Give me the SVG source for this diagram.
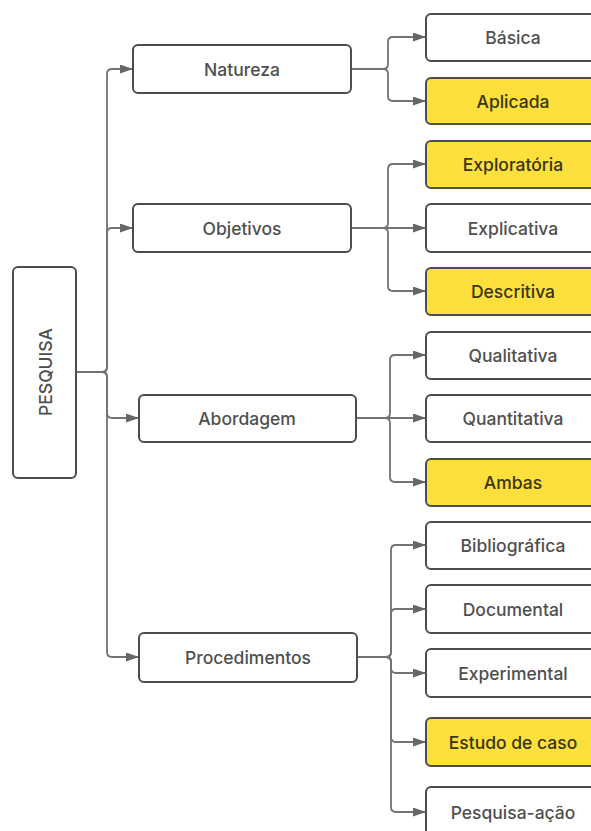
<svg xmlns="http://www.w3.org/2000/svg" width="591" height="831" viewBox="0 0 591 831">
<style>
.box{fill:#ffffff;stroke:#4d4d4d;stroke-width:2}
.hl{fill:#fde03c;stroke:#4d4d4d;stroke-width:2}
.t{font-family:Inter,"Liberation Sans",sans-serif;font-size:17.5px;font-weight:500;fill:#4f4f4f;text-anchor:middle;dominant-baseline:central}
.th{fill:#3a3410}
.c{fill:none;stroke:#737373;stroke-width:1.8}
</style>
<defs>
<marker id="arr" markerUnits="userSpaceOnUse" markerWidth="13" markerHeight="9" refX="13" refY="4.5" orient="auto">
<path d="M0,0 L13,4.5 L0,9 Z" fill="#666666"/>
</marker>
</defs>
<g id="connectors">
<path class="c" marker-end="url(#arr)" d="M76,372 H102 Q107,372 107,367 V74 Q107,69 112,69 H133"/>
<path class="c" marker-end="url(#arr)" d="M76,372 H102 Q107,372 107,367 V233 Q107,228 112,228 H133"/>
<path class="c" marker-end="url(#arr)" d="M76,372 H102 Q107,372 107,377 V413 Q107,418 112,418 H139"/>
<path class="c" marker-end="url(#arr)" d="M76,372 H102 Q107,372 107,377 V652 Q107,657 112,657 H139"/>
<path class="c" marker-end="url(#arr)" d="M351,69 H383 Q388,69 388,64 V42 Q388,37 393,37 H426"/>
<path class="c" marker-end="url(#arr)" d="M351,69 H383 Q388,69 388,74 V96 Q388,101 393,101 H426"/>
<path class="c" marker-end="url(#arr)" d="M351,228 H383 Q388,228 388,223 V169 Q388,164 393,164 H426"/>
<path class="c" marker-end="url(#arr)" d="M351,228 H426"/>
<path class="c" marker-end="url(#arr)" d="M351,228 H383 Q388,228 388,233 V286 Q388,291 393,291 H426"/>
<path class="c" marker-end="url(#arr)" d="M356,418 H385 Q390,418 390,413 V360 Q390,355 395,355 H426"/>
<path class="c" marker-end="url(#arr)" d="M356,418 H426"/>
<path class="c" marker-end="url(#arr)" d="M356,418 H385 Q390,418 390,423 V477 Q390,482 395,482 H426"/>
<path class="c" marker-end="url(#arr)" d="M357,657 H386 Q391,657 391,652 V550 Q391,545 396,545 H426"/>
<path class="c" marker-end="url(#arr)" d="M357,657 H386 Q391,657 391,652 V614 Q391,609 396,609 H426"/>
<path class="c" marker-end="url(#arr)" d="M357,657 H386 Q391,657 391,662 V668 Q391,673 396,673 H426"/>
<path class="c" marker-end="url(#arr)" d="M357,657 H386 Q391,657 391,662 V737 Q391,742 396,742 H426"/>
<path class="c" marker-end="url(#arr)" d="M357,657 H386 Q391,657 391,662 V807 Q391,812 396,812 H426"/>
</g>
<g id="pesquisa"><rect class="box" x="13" y="267" width="63" height="211" rx="5"/><text class="t" transform="translate(45,372) rotate(-90)">PESQUISA</text></g>
<g id="natureza"><rect class="box" x="133" y="45" width="218" height="48" rx="5"/><text class="t" x="242" y="69">Natureza</text></g>
<g id="objetivos"><rect class="box" x="133" y="204" width="218" height="48" rx="5"/><text class="t" x="242" y="228">Objetivos</text></g>
<g id="abordagem"><rect class="box" x="139" y="395" width="217" height="47" rx="5"/><text class="t" x="247" y="418.5">Abordagem</text></g>
<g id="procedimentos"><rect class="box" x="139" y="633" width="218" height="49" rx="5"/><text class="t" x="248" y="657.5">Procedimentos</text></g>
<g id="basica"><rect class="box" x="426" y="14" width="180" height="47" rx="5"/><text class="t" x="513" y="37.5">Básica</text></g>
<g id="aplicada"><rect class="hl" x="426" y="78" width="180" height="46" rx="5"/><text class="t th" x="513" y="101">Aplicada</text></g>
<g id="exploratoria"><rect class="hl" x="426" y="141" width="180" height="47" rx="5"/><text class="t th" x="513" y="164.5">Exploratória</text></g>
<g id="explicativa"><rect class="box" x="426" y="204" width="180" height="48" rx="5"/><text class="t" x="513" y="228">Explicativa</text></g>
<g id="descritiva"><rect class="hl" x="426" y="268" width="180" height="47" rx="5"/><text class="t th" x="513" y="291.5">Descritiva</text></g>
<g id="qualitativa"><rect class="box" x="426" y="332" width="180" height="47" rx="5"/><text class="t" x="513" y="355.5">Qualitativa</text></g>
<g id="quantitativa"><rect class="box" x="426" y="395" width="180" height="47" rx="5"/><text class="t" x="513" y="418.5">Quantitativa</text></g>
<g id="ambas"><rect class="hl" x="426" y="459" width="180" height="47" rx="5"/><text class="t th" x="513" y="482.5">Ambas</text></g>
<g id="bibliografica"><rect class="box" x="426" y="522" width="180" height="47" rx="5"/><text class="t" x="513" y="545.5">Bibliográfica</text></g>
<g id="documental"><rect class="box" x="426" y="585" width="180" height="48" rx="5"/><text class="t" x="513" y="609">Documental</text></g>
<g id="experimental"><rect class="box" x="426" y="649" width="180" height="48" rx="5"/><text class="t" x="513" y="673">Experimental</text></g>
<g id="estudo"><rect class="hl" x="426" y="718" width="180" height="48" rx="5"/><text class="t th" x="513" y="742">Estudo de caso</text></g>
<g id="pesquisa-acao"><rect class="box" x="426" y="787" width="180" height="60" rx="5"/><text class="t" x="513" y="812">Pesquisa-ação</text></g>
</svg>
